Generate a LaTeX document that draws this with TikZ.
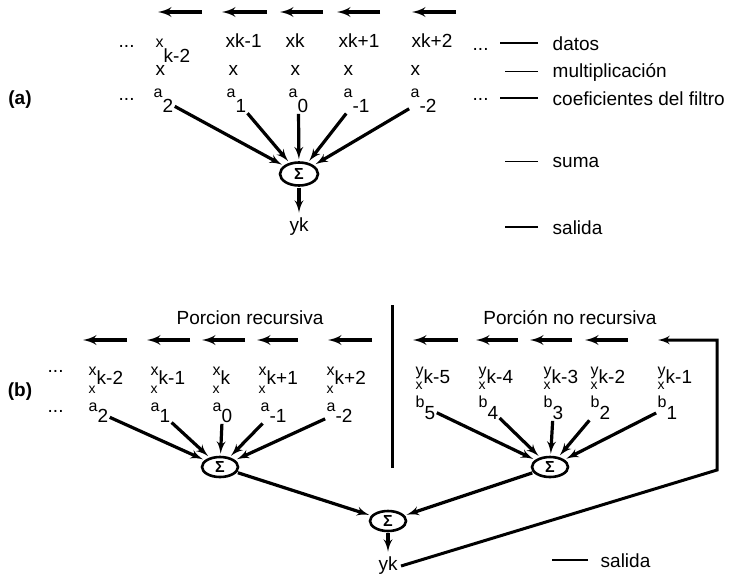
\documentclass[tikz,border=0pt]{standalone}
\usepackage{fontspec}
\setmainfont{Liberation Sans}
\usetikzlibrary{arrows,shapes}
\newcommand{\subl}[3]{{\fontsize{16}{18}\selectfont #1}\raisebox{-#3}{#2}}

\begin{document}
\begin{tikzpicture}[x=1pt,y=-1pt,font=\fontsize{19}{22}\selectfont,
  lab/.style={anchor=base west,inner sep=0.5pt},
  sumnode/.style={ellipse,draw,line width=2.6pt,minimum width=38pt,minimum height=23pt,inner sep=0pt,font=\fontsize{16}{18}\selectfont\bfseries},
  feed/.style={-latex',line width=3.2pt,shorten >=2pt,shorten <=1pt},
  slide/.style={-latex',line width=3.6pt},
  keyline/.style={line width=1.8pt}]
%
\useasboundingbox (0,0) rectangle (738,576);
%
% (a)
\node (la) at (20,100) {\bfseries (a)};
\draw[slide] (202,12) -- (158,12);
\draw[slide] (267,12) -- (222,12);
\draw[slide] (323,12) -- (280,12);
\draw[slide] (380,12) -- (337,12);
\draw[slide] (456,12) -- (412,12);
%
\node[lab] (da1) at (118,47) {...};
\node[lab] (xa1) at (155,47) {\subl{x}{k-2}{15pt}};
\node[lab] (xa2) at (225,47) {xk-1};
\node[lab] (xa3) at (285,47) {xk};
\node[lab] (xa4) at (338,47) {xk+1};
\node[lab] (xa5) at (411,47) {xk+2};
\node[lab] (da2) at (472,50) {...};
\node[lab] (ma1) at (155,75) {x};
\node[lab] (ma2) at (228,75) {x};
\node[lab] (ma3) at (290,75) {x};
\node[lab] (ma4) at (343,75) {x};
\node[lab] (ma5) at (410,75) {x};
\node[lab] (da3) at (118,100) {...};
\node[lab] (aa1) at (153,97) {\subl{a}{2}{15pt}};
\node[lab] (aa2) at (226,97) {\subl{a}{1}{15pt}};
\node[lab] (aa3) at (288,97) {\subl{a}{0}{15pt}};
\node[lab] (aa4) at (343,97) {\subl{a}{-1}{15pt}};
\node[lab] (aa5) at (410,97) {\subl{a}{-2}{15pt}};
\node[lab] (da4) at (472,100) {...};
%
\node[sumnode] (sa) at (299,174) {Σ};
\node (ya) at (299,227) {yk};
\draw[feed] (aa1) -- (sa);
\draw[feed] (aa2) -- (sa);
\draw[feed] (aa3) -- (sa);
\draw[feed] (aa4) -- (sa);
\draw[feed] (aa5) -- (sa);
\draw[feed] (sa) -- (ya);
%
\node[lab] (ka1) at (552,50) {datos};
\node[lab] (ka2) at (552,77) {multiplicación};
\node[lab] (ka3) at (552,105) {coeficientes del filtro};
\node[lab] (ka4) at (552,167) {suma};
\node[lab] (ka5) at (552,234) {salida};
\draw[keyline] ([xshift=-14pt]ka1.west) -- ++(-38,0);
\draw[keyline,line width=1pt] ([xshift=-14pt]ka2.west) -- ++(-33,0);
\draw[keyline] ([xshift=-14pt]ka3.west) -- ++(-38,0);
\draw[keyline,line width=1pt] ([xshift=-14pt]ka4.west) -- ++(-33,0);
\draw[keyline] ([xshift=-14pt]ka5.west) -- ++(-33,0);
%
% (b)
\node (lb) at (20,392) {\bfseries (b)};
\node (hb1) at (250,318) {Porcion recursiva};
\node (hb2) at (570,318) {Porción no recursiva};
\draw[line width=3pt] (392,305) -- (392,468);
\draw[slide] (127,340) -- (83,340);
\draw[slide] (190,340) -- (147,340);
\draw[slide] (245,340) -- (202,340);
\draw[slide] (298,340) -- (257,340);
\draw[slide] (372,340) -- (328,340);
\draw[slide] (458,340) -- (413,340);
\draw[slide] (518,340) -- (476,340);
\draw[slide] (572,340) -- (530,340);
\draw[slide] (628,340) -- (585,340);
%
\node[lab] (db1) at (47,372) {...};
\node[lab] (xb1) at (88,375) {\subl{x}{k-2}{9pt}};
\node[lab] (xb2) at (150,375) {\subl{x}{k-1}{9pt}};
\node[lab] (xb3) at (212,375) {\subl{x}{k}{9pt}};
\node[lab] (xb4) at (258,375) {\subl{x}{k+1}{9pt}};
\node[lab] (xb5) at (326,375) {\subl{x}{k+2}{9pt}};
\node[lab,font=\fontsize{14}{16}\selectfont] (mb1) at (88,393) {x};
\node[lab,font=\fontsize{14}{16}\selectfont] (mb2) at (150,393) {x};
\node[lab,font=\fontsize{14}{16}\selectfont] (mb3) at (212,393) {x};
\node[lab,font=\fontsize{14}{16}\selectfont] (mb4) at (258,393) {x};
\node[lab,font=\fontsize{14}{16}\selectfont] (mb5) at (326,393) {x};
\node[lab] (db2) at (47,412) {...};
\node[lab] (ab1) at (88,411) {\subl{a}{2}{11pt}};
\node[lab] (ab2) at (150,411) {\subl{a}{1}{11pt}};
\node[lab] (ab3) at (212,411) {\subl{a}{0}{11pt}};
\node[lab] (ab4) at (260,411) {\subl{a}{-1}{11pt}};
\node[lab] (ab5) at (326,411) {\subl{a}{-2}{11pt}};
%
\node[lab] (yb1) at (415,375) {\subl{y}{k-5}{8pt}};
\node[lab] (yb2) at (478,375) {\subl{y}{k-4}{8pt}};
\node[lab] (yb3) at (543,375) {\subl{y}{k-3}{8pt}};
\node[lab] (yb4) at (590,375) {\subl{y}{k-2}{8pt}};
\node[lab] (yb5) at (657,375) {\subl{y}{k-1}{8pt}};
\node[lab,font=\fontsize{14}{16}\selectfont] (nb1) at (415,389) {x};
\node[lab,font=\fontsize{14}{16}\selectfont] (nb2) at (478,389) {x};
\node[lab,font=\fontsize{14}{16}\selectfont] (nb3) at (543,389) {x};
\node[lab,font=\fontsize{14}{16}\selectfont] (nb4) at (590,389) {x};
\node[lab,font=\fontsize{14}{16}\selectfont] (nb5) at (657,389) {x};
\node[lab] (bb1) at (415,407) {\subl{b}{5}{12pt}};
\node[lab] (bb2) at (478,407) {\subl{b}{4}{12pt}};
\node[lab] (bb3) at (543,407) {\subl{b}{3}{12pt}};
\node[lab] (bb4) at (590,407) {\subl{b}{2}{12pt}};
\node[lab] (bb5) at (657,407) {\subl{b}{1}{12pt}};
%
\node[sumnode,minimum width=36pt,minimum height=20pt] (sb1) at (220,467) {Σ};
\node[sumnode,minimum width=36pt,minimum height=20pt] (sb2) at (550,467) {Σ};
\node[sumnode,minimum width=36pt,minimum height=20pt] (sb3) at (388,521) {Σ};
\node (outb) at (388,566) {yk};
\draw[feed] (ab1) -- (sb1);
\draw[feed] (ab2) -- (sb1);
\draw[feed] (ab3) -- (sb1);
\draw[feed] (ab4) -- (sb1);
\draw[feed] (ab5) -- (sb1);
\draw[feed] (bb1) -- (sb2);
\draw[feed] (bb2) -- (sb2);
\draw[feed] (bb3) -- (sb2);
\draw[feed] (bb4) -- (sb2);
\draw[feed] (bb5) -- (sb2);
\draw[feed] (sb1) -- (sb3);
\draw[feed] (sb2) -- (sb3);
\draw[feed] (sb3) -- (outb);
%
\coordinate (fb1) at (717,470);
\coordinate (fb2) at (717,340);
\coordinate (fb3) at (658,340);
\draw[-latex',line width=3pt] (outb.east) -- (fb1) -- (fb2) -- (fb3);
%
\node[lab] (kb1) at (600,567) {salida};
\draw[keyline] ([xshift=-12pt]kb1.west) -- ++(-36,0);
%
\end{tikzpicture}
\end{document}
